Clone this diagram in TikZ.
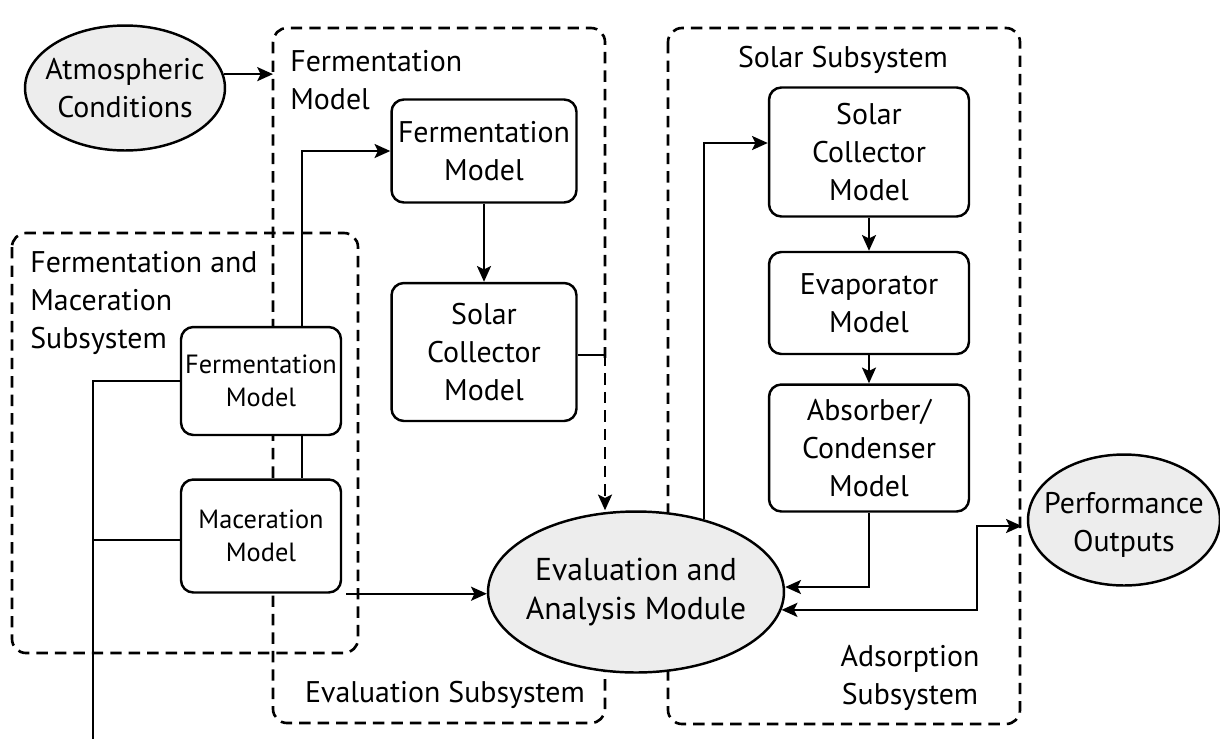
\documentclass[tikz,border=0pt]{standalone}
\usepackage{fontspec}
\setmainfont{PT Sans}
\usepackage{tikz}
\usetikzlibrary{arrows.meta, positioning, shapes.geometric}

\tikzset{
    model/.style={draw, line width=1.4pt, rounded corners=7pt, fill=white, align=center, inner sep=0pt,
        font=\fontsize{17}{21.5}\selectfont},
    smallmodel/.style={model, font=\fontsize{15}{19}\selectfont},
    bubble/.style={ellipse, draw, line width=1.4pt, fill=black!7, inner sep=0pt},
    bubbletext/.style={align=center, inner sep=0pt, font=\fontsize{17}{21.5}\selectfont},
    subsys/.style={line width=1.5pt, rounded corners=8pt, dash pattern=on 6.5pt off 4pt},
    caption/.style={align=left, inner sep=0pt, font=\fontsize{17}{21.5}\selectfont},
    flow/.style={line width=1.3pt, -{Stealth[length=9pt, width=8pt, inset=2pt]}},
    twoway/.style={line width=1.3pt, {Stealth[length=9pt, width=8pt, inset=2pt]}-{Stealth[length=9pt, width=8pt, inset=2pt]}},
    link/.style={line width=1.3pt}
}

\begin{document}
\begin{tikzpicture}[x=0.02cm, y=-0.02cm]
    \useasboundingbox (0,0) rectangle (1220,738);
    % Subsystem frames
    \draw[subsys] (273,28) rectangle (605,723);
    \draw[subsys] (12,233) rectangle (358,653);
    \draw[subsys] (668,28) rectangle (1020,724);
    % Frame titles
    \node[caption, anchor=west] (evalhead) at (290,80) {Fermentation\\Model};
    \node[caption] (evalfoot) at (445,695) {Evaluation Subsystem};
    \node[caption, anchor=west] (fmhead) at (30,303) {Fermentation and\\Maceration\\Subsystem};
    \node[caption] (solarhead) at (843,60) {Solar Subsystem};
    \node[caption, align=center] (solarfoot) at (910,678) {Adsorption\\Subsystem};
    % Inputs and outputs
    \node[bubble, minimum width=4cm, minimum height=2.5cm,
        label={[bubbletext]center:Atmospheric\\Conditions}] (atm) at (125,88) {};
    \node[bubble, minimum width=5.92cm, minimum height=3.22cm,
        label={[bubbletext, font=\fontsize{18}{22.5}\selectfont]center:Evaluation and\\Analysis Module}] (eval) at (636,592) {};
    \node[bubble, minimum width=3.84cm, minimum height=2.62cm,
        label={[bubbletext, yshift=-0.1cm]center:Performance\\Outputs}] (perf) at (1124,520) {};
    % Evaluation models
    \node[model, minimum width=3.7cm, minimum height=2.06cm] (fermtop) at (484,151) {Fermentation\\Model};
    \node[model, minimum width=3.7cm, minimum height=2.76cm] (solarmid) at (484,352) {Solar\\Collector\\Model};
    % Fermentation and maceration models
    \node[smallmodel, minimum width=3.2cm, minimum height=2.16cm] (fermsmall) at (261,381) {Fermentation\\Model};
    \node[smallmodel, minimum width=3.2cm, minimum height=2.26cm] (macer) at (261,536) {Maceration\\Model};
    % Solar and adsorption models
    \node[model, minimum width=4cm, minimum height=2.58cm] (solarR) at (869,152) {Solar\\Collector\\Model};
    \node[model, minimum width=4cm, minimum height=2.04cm] (evap) at (869,303) {Evaporator\\Model};
    \node[model, minimum width=4cm, minimum height=2.54cm] (absorb) at (869,448) {Absorber/\\Condenser\\Model};
    % Helper points
    \coordinate (evalin) at (273,78);
    \coordinate (evaltap) at (605,355);
    \coordinate (busend) at (93,740);
    \coordinate (perfjoin) at (977,526);
    % Connectors
    \draw[flow] (atm.8) -- (atm.8 -| evalin);
    \draw[flow] ([xshift=0.82cm]fermsmall.north) |- (fermtop.west);
    \draw[link] ([xshift=0.82cm]fermsmall.south) -- ([xshift=0.82cm]macer.north);
    \draw[flow] (fermtop) -- (solarmid);
    \draw[link] (solarmid.east |- evaltap) -- (evaltap);
    \draw[white, line width=3pt] ([yshift=-0.06cm]evaltap) -- (evaltap |- eval.north);
    \draw[flow, dash pattern=on 6.5pt off 4pt] (evaltap) -- (evaltap |- eval.north);
    \draw[link] (fermsmall.west) -| (busend);
    \draw[link] ([yshift=-0.08cm]macer.west) -- ([yshift=-0.08cm]macer.west -| busend);
    \draw[flow] ([xshift=0.08cm]macer.south east) -- (macer.south east -| eval.west);
    \draw[flow] (eval.47) |- ([yshift=0.18cm]solarR.west);
    \draw[flow] (solarR) -- (evap);
    \draw[flow] (evap) -- (absorb);
    \draw[flow] (absorb.south) |- ([yshift=0.1cm]eval.east);
    \draw[twoway] (eval.-7.5) -| (perfjoin) -- ([xshift=-0.1cm]perfjoin -| perf.west);
\end{tikzpicture}
\end{document}
